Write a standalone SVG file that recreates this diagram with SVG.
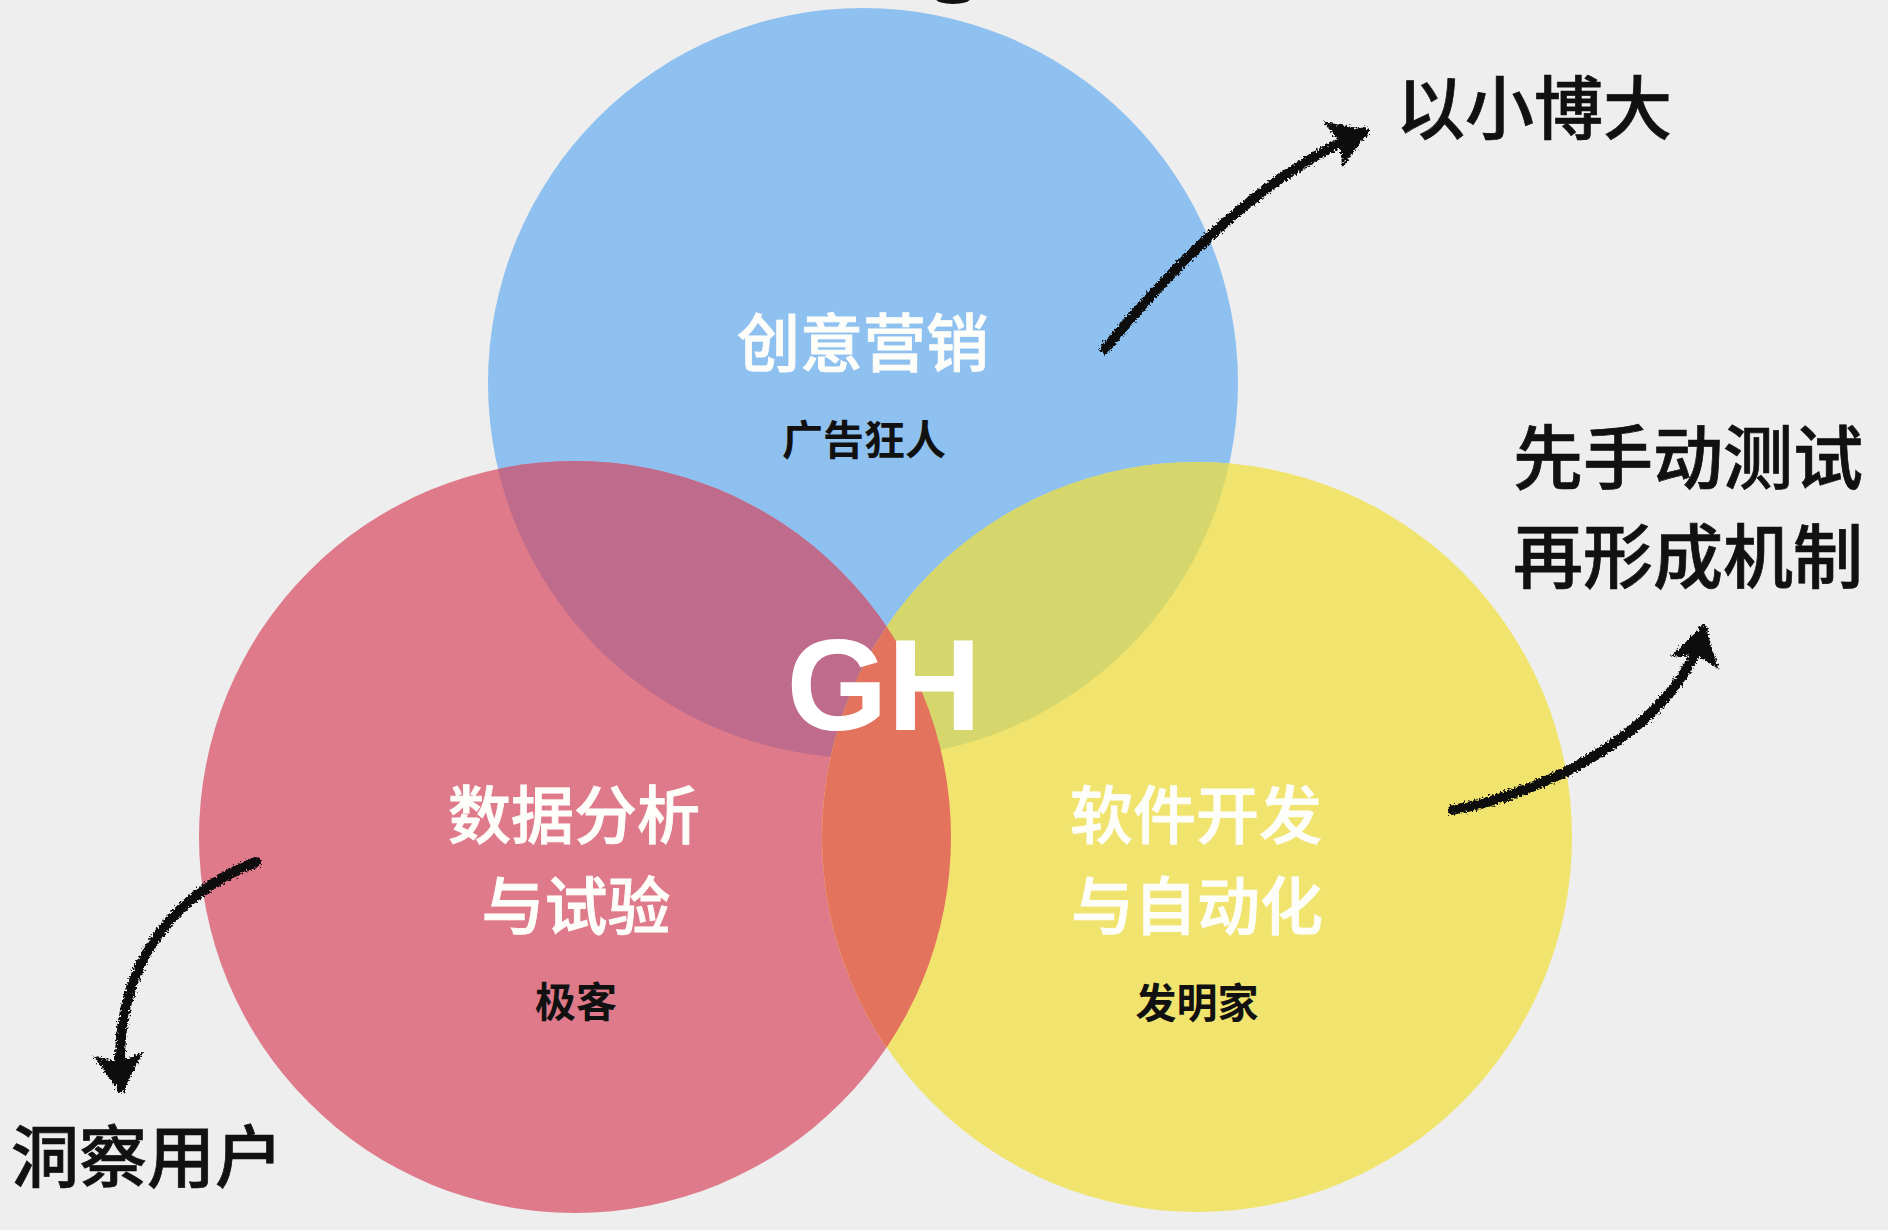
<svg xmlns="http://www.w3.org/2000/svg" width="1888" height="1230" viewBox="0 0 1888 1230">
  <style>
    .cjk { font-family: "Noto Sans CJK SC", "Noto Sans", sans-serif; }
    .title { fill: #fdfdf9; stroke: #fdfdf9; stroke-width: 0.9; font-size: 63px; font-weight: 500; text-anchor: middle; }
    .sub { fill: #111111; font-size: 41px; font-weight: 700; text-anchor: middle; }
    .side { fill: #111111; stroke: #111111; stroke-width: 0.7; font-size: 69px; font-weight: 500; }
    .gh { font-family: "Liberation Sans", Arial, sans-serif; font-weight: 700; font-size: 130px; fill: #ffffff; text-anchor: middle; }
    .arrow { fill: none; stroke: #111111; stroke-width: 10; stroke-linecap: round; }
  </style>
  <defs>
    <clipPath id="clip-blue"><circle cx="863" cy="383" r="375"/></clipPath>
    <clipPath id="clip-red"><circle cx="575" cy="837" r="376"/></clipPath>
    <clipPath id="clip-yellow"><circle cx="1197" cy="837" r="375"/></clipPath>
    <filter id="rough" filterUnits="userSpaceOnUse" x="0" y="0" width="1888" height="1230">
      <feTurbulence type="fractalNoise" baseFrequency="0.5" numOctaves="2" seed="4" result="n"/>
      <feDisplacementMap in="SourceGraphic" in2="n" scale="8" xChannelSelector="R" yChannelSelector="G"/>
    </filter>
    <marker id="head" viewBox="0 0 40 50" refX="34" refY="25" markerWidth="40" markerHeight="50" markerUnits="userSpaceOnUse" orient="auto">
      <path d="M0,0 L40,25 L0,50 L8,25 Z" fill="#111111"/>
    </marker>
  </defs>

  <rect x="0" y="0" width="1888" height="1230" fill="#eeeeee"/>
  <ellipse cx="953" cy="-1" rx="17" ry="5" fill="#111111"/>

  <g id="node-marketing">
    <circle cx="863" cy="383" r="375" fill="#8ec0f0"/>
  </g>
  <g id="node-data">
    <circle cx="575" cy="837" r="376" fill="#de7a8a"/>
  </g>
  <g id="node-software">
    <circle cx="1197" cy="837" r="375" fill="#f1e46e"/>
  </g>

  <g id="overlaps">
    <circle cx="863" cy="383" r="375" fill="#bf6b8b" clip-path="url(#clip-red)"/>
    <circle cx="863" cy="383" r="375" fill="#d5d66b" clip-path="url(#clip-yellow)"/>
    <circle cx="575" cy="837" r="376" fill="#e4735d" clip-path="url(#clip-yellow)"/>
  </g>

  <g id="labels-marketing" class="cjk">
    <text class="title" x="863" y="366">创意营销</text>
    <text class="sub" x="864" y="455">广告狂人</text>
  </g>
  <g id="labels-data" class="cjk">
    <text class="title" x="574" y="838">数据分析</text>
    <text class="title" x="576" y="929">与试验</text>
    <text class="sub" x="576" y="1017">极客</text>
  </g>
  <g id="labels-software" class="cjk">
    <text class="title" x="1196" y="838">软件开发</text>
    <text class="title" x="1197" y="929">与自动化</text>
    <text class="sub" x="1197" y="1018">发明家</text>
  </g>
  <g id="node-gh">
    <text class="gh" x="884" y="730">GH</text>
  </g>

  <g id="connectors" filter="url(#rough)">
    <path class="arrow" d="M1105,349 C1170,270 1260,175 1364,132" marker-end="url(#head)"/>
    <path class="arrow" d="M256,862 C160,900 112,980 121,1088" marker-end="url(#head)"/>
    <path class="arrow" d="M1453,810 C1560,790 1680,720 1703,630" marker-end="url(#head)"/>
  </g>

  <g id="label-outcome-1" class="cjk">
    <text class="side" x="1396" y="134">以小博大</text>
  </g>
  <g id="label-outcome-2" class="cjk">
    <text class="side" x="1513" y="484" style="font-size:70px">先手动测试</text>
    <text class="side" x="1513" y="583" style="font-size:70px">再形成机制</text>
  </g>
  <g id="label-outcome-3" class="cjk">
    <text class="side" x="11" y="1182" style="font-size:68px">洞察用户</text>
  </g>
</svg>
